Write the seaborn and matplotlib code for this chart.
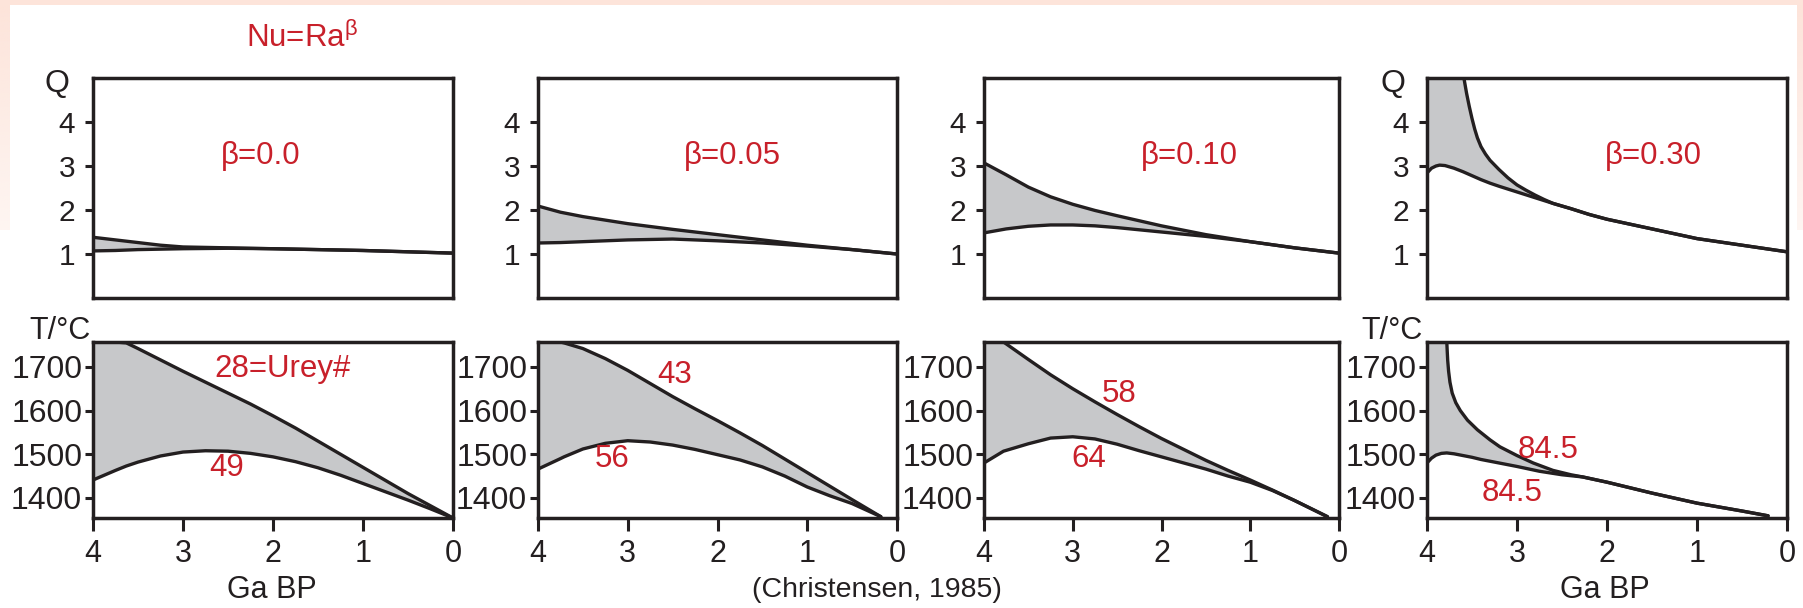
import numpy as np
import matplotlib
matplotlib.use("Agg")
import matplotlib.pyplot as plt
import seaborn as sns
from matplotlib.patches import Rectangle

# ---------------- data ----------------
beta_labels = ["β=0.0", "β=0.05", "β=0.10", "β=0.30"]
beta_label_xy = [(2.14, 3.23), (1.83, 3.23), (1.69, 3.23), (1.48, 3.23)]

x_ticks = [4, 3, 2, 1, 0]
x_ticklabels = ["4", "3", "2", "1", "0"]
q_ticks = [1, 2, 3, 4]
t_ticks = [1400, 1500, 1600, 1700]

# Heat flow Q, beta = 0.0
q0_x = [4.0, 3.75, 3.5, 3.25, 3.0, 2.5, 2.0, 1.5, 1.0, 0.5, 0.0]
q0_hi = [1.38, 1.32, 1.26, 1.20, 1.16, 1.14, 1.12, 1.10, 1.08, 1.05, 1.02]
q0_lo = [1.07, 1.08, 1.10, 1.11, 1.12, 1.13, 1.12, 1.10, 1.08, 1.05, 1.02]
# beta = 0.05
q1_x = [4.0, 3.75, 3.5, 3.25, 3.0, 2.5, 2.0, 1.5, 1.0, 0.5, 0.0]
q1_hi = [2.09, 1.95, 1.85, 1.77, 1.69, 1.56, 1.44, 1.32, 1.20, 1.10, 1.00]
q1_lo = [1.25, 1.26, 1.28, 1.30, 1.32, 1.34, 1.30, 1.25, 1.18, 1.10, 1.00]
# beta = 0.10
q2_x = [4.0, 3.75, 3.5, 3.25, 3.0, 2.75, 2.5, 2.0, 1.5, 1.0, 0.5, 0.0]
q2_hi = [3.07, 2.80, 2.52, 2.30, 2.13, 1.99, 1.87, 1.64, 1.44, 1.28, 1.14, 1.02]
q2_lo = [1.48, 1.57, 1.63, 1.66, 1.66, 1.64, 1.60, 1.50, 1.40, 1.28, 1.14, 1.02]
# beta = 0.30
q3_x_hi = [4.0, 3.8, 3.59, 3.56, 3.53, 3.5, 3.47, 3.44, 3.4, 3.35, 3.3, 3.2, 3.1, 3.0, 2.9,
           2.8, 2.7, 2.6, 2.4, 2.2, 2.0, 1.5, 1.0, 0.5, 0.0]
q3_hi = [5.0, 5.0, 5.0, 4.65, 4.35, 4.08, 3.84, 3.64, 3.44, 3.27, 3.13, 2.92, 2.73, 2.57, 2.45,
         2.34, 2.24, 2.15, 2.03, 1.90, 1.79, 1.57, 1.35, 1.20, 1.05]
q3_x_lo = [4.0, 3.95, 3.9, 3.86, 3.8, 3.7, 3.6, 3.5, 3.4, 3.3, 3.2, 3.0, 2.8, 2.6,
           2.4, 2.2, 2.0, 1.5, 1.0, 0.5, 0.0]
q3_lo = [2.84, 2.95, 3.00, 3.02, 3.01, 2.95, 2.87, 2.78, 2.69, 2.61, 2.54, 2.41, 2.28, 2.15,
         2.03, 1.90, 1.79, 1.57, 1.35, 1.20, 1.05]

# Mantle temperature T/°C
t0_x = [4.0, 3.75, 3.63, 3.5, 3.25, 3.0, 2.75, 2.5, 2.25, 2.0, 1.75, 1.5, 1.25, 1.0, 0.75, 0.5, 0.25, 0.0]
t0_hi = [1757, 1757, 1755, 1742, 1716, 1690, 1665, 1640, 1615, 1588, 1560, 1530, 1500, 1470, 1440, 1410, 1382, 1354]
t0_lo = [1441, 1463, 1473, 1482, 1496, 1505, 1508, 1507, 1502, 1494, 1483, 1469, 1452, 1433, 1414, 1395, 1375, 1354]

t1_x = [4.0, 3.75, 3.71, 3.5, 3.25, 3.0, 2.75, 2.5, 2.25, 2.0, 1.75, 1.5, 1.25, 1.0, 0.75, 0.5, 0.18]
t1_hi = [1757, 1757, 1755, 1742, 1719, 1692, 1662, 1632, 1604, 1577, 1549, 1520, 1489, 1458, 1427, 1396, 1357]
t1_lo = [1466, 1490, 1494, 1512, 1525, 1531, 1528, 1521, 1511, 1499, 1487, 1471, 1450, 1425, 1405, 1387, 1357]

t2_x = [4.0, 3.78, 3.5, 3.25, 3.0, 2.75, 2.5, 2.25, 2.0, 1.75, 1.5, 1.25, 1.0, 0.75, 0.5, 0.13]
t2_hi = [1757, 1757, 1717, 1682, 1650, 1620, 1591, 1563, 1536, 1511, 1486, 1463, 1441, 1418, 1394, 1357]
t2_lo = [1480, 1507, 1524, 1537, 1540, 1535, 1523, 1508, 1494, 1480, 1466, 1450, 1436, 1417, 1394, 1357]

t3_x_hi = [4.0, 3.78, 3.775, 3.77, 3.76, 3.745, 3.72, 3.68, 3.63, 3.55, 3.44, 3.3, 3.19, 3.0,
           2.82, 2.6, 2.4, 2.27, 2.0, 1.5, 1.0, 0.5, 0.21]
t3_hi = [1757, 1757, 1735, 1715, 1690, 1665, 1640, 1618, 1600, 1578, 1556, 1533, 1517, 1497,
         1480, 1463, 1453, 1448, 1436, 1411, 1388, 1370, 1359]
t3_x_lo = [4.0, 3.95, 3.9, 3.84, 3.78, 3.7, 3.6, 3.5, 3.4, 3.25, 3.0, 2.75, 2.5, 2.27, 2.0, 1.5, 1.0, 0.5, 0.21]
t3_lo = [1480, 1491, 1498, 1502, 1503, 1501, 1497, 1493, 1488, 1482, 1472, 1461, 1453, 1448, 1436, 1411,
         1388, 1370, 1359]

urey_labels = [("28=Urey#", "49"), ("43", "56"), ("58", "64"), ("84.5", "84.5")]
urey_xy = [((1.90, 1695), (2.51, 1469)),
           ((2.48, 1682), (3.18, 1490)),
           ((2.48, 1638), (2.82, 1490)),
           ((2.66, 1510), (3.06, 1412))]

title_text = r"Nu=Ra$^{\beta}$"
source_text = "(Christensen, 1985)"
xlabel_text = "Ga BP"
q_label = "Q"
t_label = "T/°C"

# ---------------- style ----------------
sns.set_style("ticks")
plt.rcParams["font.family"] = ["Liberation Sans", "DejaVu Sans"]
plt.rcParams["mathtext.fontset"] = "custom"
plt.rcParams["mathtext.rm"] = "Liberation Sans"
plt.rcParams["mathtext.it"] = "Liberation Sans"
plt.rcParams["mathtext.bf"] = "Liberation Sans"

INK = "#231f20"
RED = "#c8202a"
GRAY = "#c7c8ca"
PINK = (253 / 255, 228 / 255, 218 / 255)

W, H = 1803, 608
fig = plt.figure(figsize=(W / 100, H / 100), dpi=100, facecolor="white")


def px_rect(l, r, t, b):
    return [l / W, 1 - b / H, (r - l) / W, (b - t) / H]


def fx(px):
    return px / W


def fy(py):
    return 1 - py / H


# background decoration (slide border)
bg = fig.add_axes([0, 0, 1, 1], zorder=-10)
bg.axis("off")
bg.add_patch(Rectangle((0, 0), W, 5, color=PINK, lw=0))
grad = np.zeros((100, 1, 4))
grad[..., :3] = PINK
grad[:, 0, 3] = np.linspace(1.0, 0.35, 100)
bg.imshow(grad, extent=(0, 10, 230, 5), aspect="auto", origin="upper", interpolation="bilinear")
bg.imshow(grad, extent=(1797, W, 230, 5), aspect="auto", origin="upper", interpolation="bilinear")
bg.set_xlim(0, W)
bg.set_ylim(H, 0)

panels_lr = [(93, 453), (538, 897), (984, 1339), (1427, 1787)]
top_tb = (78, 298)
bot_tb = (342, 518)

q_data = [(q0_x, q0_hi, q0_x, q0_lo), (q1_x, q1_hi, q1_x, q1_lo),
          (q2_x, q2_hi, q2_x, q2_lo), (q3_x_hi, q3_hi, q3_x_lo, q3_lo)]
t_data = [(t0_x, t0_hi, t0_x, t0_lo), (t1_x, t1_hi, t1_x, t1_lo),
          (t2_x, t2_hi, t2_x, t2_lo), (t3_x_hi, t3_hi, t3_x_lo, t3_lo)]

LW = 2.4


def draw_band(ax, xh, yh, xl, yl):
    xh, yh, xl, yl = map(np.asarray, (xh, yh, xl, yl))
    ax.fill(np.concatenate([xh, xl[::-1]]), np.concatenate([yh, yl[::-1]]),
            color=GRAY, lw=0, zorder=1)
    for xx, yy in ((xh, yh), (xl, yl)):
        sns.lineplot(x=xx, y=yy, ax=ax, color=INK, linewidth=LW,
                     estimator=None, zorder=3)
    for line in ax.lines:
        line.set_solid_joinstyle("round")
        line.set_solid_capstyle("round")


def style_axes(ax):
    for s in ax.spines.values():
        s.set_visible(True)
        s.set_linewidth(2.5)
        s.set_color(INK)
        s.set_zorder(5)
    ax.set_xlabel("")
    ax.set_ylabel("")
    ax.set_facecolor("white")


for i, (l, r) in enumerate(panels_lr):
    # top row: Q
    ax = fig.add_axes(px_rect(l, r, *top_tb))
    draw_band(ax, *q_data[i])
    ax.set_xlim(4, 0)
    ax.set_ylim(0, 5)
    ax.set_xticks([])
    ax.set_yticks(q_ticks)
    ax.set_yticklabels([str(v) for v in q_ticks])
    ax.tick_params(axis="y", direction="out", length=5.8, width=2.2, color=INK,
                   labelsize=21.5, labelcolor=INK, pad=7)
    style_axes(ax)
    ax.text(*beta_label_xy[i], beta_labels[i], color=RED, fontsize=22.5,
            ha="center", va="center")

    # bottom row: T
    ax2 = fig.add_axes(px_rect(l, r, *bot_tb))
    draw_band(ax2, *t_data[i])
    ax2.set_xlim(4, 0)
    ax2.set_ylim(1354, 1757)
    ax2.set_xticks(x_ticks)
    ax2.set_xticklabels(x_ticklabels)
    ax2.set_yticks(t_ticks)
    ax2.set_yticklabels([str(v) for v in t_ticks])
    ax2.tick_params(axis="y", direction="out", length=5.8, width=2.2, color=INK,
                    labelsize=23, labelcolor=INK, pad=2)
    ax2.tick_params(axis="x", direction="out", length=9.4, width=2.2, color=INK,
                    labelsize=22, labelcolor=INK, pad=6)
    style_axes(ax2)
    (la, lb), (pa, pb) = urey_labels[i], urey_xy[i]
    ax2.text(*pa, la, color=RED, fontsize=22.5, ha="center", va="center", zorder=6)
    ax2.text(*pb, lb, color=RED, fontsize=22.5, ha="center", va="center", zorder=6)

# figure-level texts
fig.text(fx(246), fy(38), title_text, color=RED, fontsize=22.5, ha="left", va="center")
fig.text(fx(57), fy(84), q_label, color=INK, fontsize=23, ha="center", va="center")
fig.text(fx(1393), fy(84), q_label, color=INK, fontsize=23, ha="center", va="center")
fig.text(fx(60), fy(331), t_label, color=INK, fontsize=22, ha="center", va="center")
fig.text(fx(1392), fy(331), t_label, color=INK, fontsize=22, ha="center", va="center")
fig.text(fx(272), fy(590), xlabel_text, color=INK, fontsize=22, ha="center", va="center")
fig.text(fx(1605), fy(590), xlabel_text, color=INK, fontsize=22, ha="center", va="center")
fig.text(fx(877), fy(590), source_text, color=INK, fontsize=20.5, ha="center", va="center")

fig.savefig("out.png", dpi=100, facecolor="white")
